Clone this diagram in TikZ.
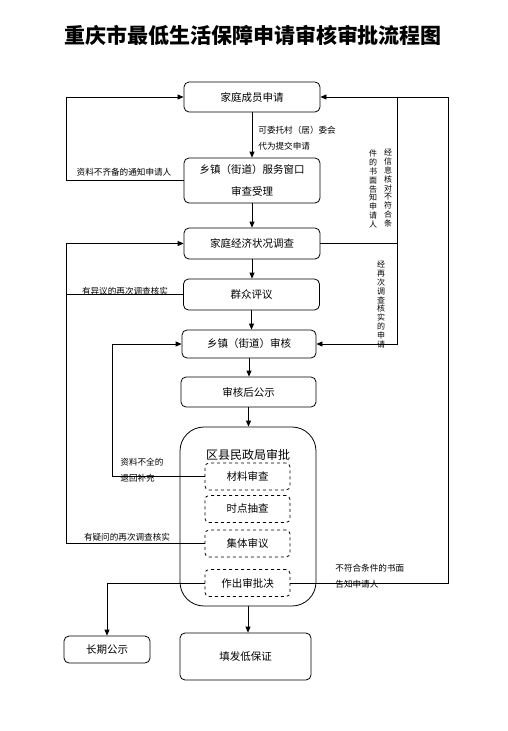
\documentclass[tikz,border=0pt]{standalone}
\usepackage{fontspec}
\setmainfont{Noto Sans CJK SC}
\usetikzlibrary{arrows.meta}
\begin{document}
\begin{tikzpicture}[x = 1pt, y = -1pt, line width = 0.8pt,
  box/.style = {draw, rounded corners = 5pt, minimum width = 136pt, minimum height = 30pt,
    font = \fontsize{10.5}{22}\selectfont, align = center},
  dashbox/.style = {draw, dashed, rounded corners = 4pt, minimum width = 85pt, minimum height = 27pt,
    font = \fontsize{10.5}{12}\selectfont},
  note/.style = {font = \fontsize{8.6}{16}\selectfont, align = left, inner sep = 1pt},
  vnote/.style = {font = \fontsize{8}{8.8}\selectfont, align = center, inner sep = 0pt},
  arr/.style = {-{Triangle[length = 6pt, width = 5pt]}}]
\useasboundingbox (0,0) rectangle (508,731);
\node[font = \fontsize{21}{24}\selectfont\bfseries] (title) at (253,35) {重庆市最低生活保障申请审核审批流程图};
%% main column
\node[box] (apply) at (252,97) {家庭成员申请};
\node[box, minimum height = 45pt] (window) at (252,180.5) {乡镇（街道）服务窗口\\审查受理};
\node[box, minimum height = 31pt] (survey) at (252,243.5) {家庭经济状况调查};
\node[box, minimum height = 31pt] (assess) at (251.5,294.5) {群众评议};
\node[box, minimum width = 134pt, minimum height = 28pt] (review) at (249,344) {乡镇（街道）审核};
\node[box, minimum width = 135pt] (notice) at (248.5,392) {审核后公示};
%% county approval
\node[draw, rounded corners = 24pt, minimum width = 136pt, minimum height = 179pt] (approve) at (248,516.5) {};
\node[font = \fontsize{12}{14}\selectfont] (approvetitle) at (248,455) {区县民政局审批};
\node[dashbox] (check) at (247.5,476.5) {材料审查};
\node[dashbox] (spot) at (247.5,509) {时点抽查};
\node[dashbox] (collect) at (247.5,543.5) {集体审议};
\node[dashbox] (decide) at (247.5,583) {作出审批决};
\node[box, minimum width = 131pt, minimum height = 47pt] (issue) at (245.5,656.5) {填发低保证};
\node[box, minimum width = 86pt, minimum height = 27pt] (publish) at (107,649.5) {长期公示};
%% side lines
\coordinate (lftA) at (66,0);
\coordinate (lftB) at (112,0);
\coordinate (rgtA) at (397,0);
\coordinate (rgtB) at (448,0);
%% downward flow
\draw[arr] (apply.south) -- (apply.south |- window.north);
\draw[arr] (window.south) -- (window.south |- survey.north);
\draw[arr] (survey.south) -- (survey.south |- assess.north);
\draw[arr] (assess.south) -- (assess.south |- review.north);
\draw[arr] (review.south) -- (review.south |- notice.north);
\draw[arr] (notice.south) -- (notice.south |- approve.north);
\draw[arr] (approve.south) -- (approve.south |- issue.north);
\draw[arr] (decide.west) -| (publish.north);
%% feedback loops
\draw[arr] (window.west) -- (window.west -| lftA) |- (apply.west);
\draw[arr] (assess.west) -- (assess.west -| lftA) |- (survey.west);
\draw (collect.west) -- (collect.west -| lftA) -- (assess.west -| lftA);
\draw[arr] (check.west) -- (check.west -| lftB) |- (review.west);
\draw (survey.east) -- (survey.east -| rgtA) -- (rgtA |- apply.east);
\draw[arr] (survey.east -| rgtA) |- (review.east);
\draw[arr] (decide.east) -| (rgtB |- apply.east) -- (apply.east);
%% labels
\node[note, anchor = west] (entrust) at (257,138) {可委托村（居）委会\\代为提交申请};
\node[note, anchor = south] (incomplete) at (124,178) {资料不齐备的通知申请人};
\node[note, anchor = south] (objection) at (125,297) {有异议的再次调查核实};
\node[note, anchor = west] (returnback) at (119,470) {资料不全的\\退回补充};
\node[note, anchor = south] (doubt) at (127,543) {有疑问的再次调查核实};
\node[note, anchor = west] (reject) at (334,576) {不符合条件的书面\\告知申请人};
\node[vnote] (infoA) at (388,188) {经\\信\\息\\核\\对\\不\\符\\合\\条};
\node[vnote] (infoB) at (373,189) {件\\的\\书\\面\\告\\知\\申\\请\\人};
\node[vnote] (recheck) at (381,304.5) {经\\再\\次\\调\\查\\核\\实\\的\\申\\请};
\end{tikzpicture}
\end{document}
